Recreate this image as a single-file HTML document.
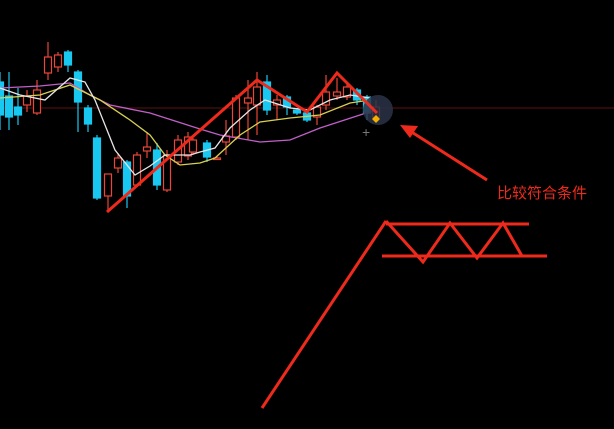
<!DOCTYPE html>
<html><head><meta charset="utf-8"><style>
html,body{margin:0;padding:0;background:#000;width:614px;height:429px;overflow:hidden}
svg{display:block}
text{font-family:"Liberation Sans","Noto Sans CJK SC",sans-serif}
</style></head><body>
<svg id="c" width="614" height="429">
<rect width="614" height="429" fill="#000"/>
<line x1="0" y1="108" x2="614" y2="108" stroke="#3c0c0c" stroke-width="1.5"/>
<g id="candles"></g>
<g id="mas"></g>
<circle cx="378" cy="110" r="15" fill="#2a3347" opacity="0.85"/>
<polyline id="zig" fill="none" stroke="#ee2a1c" stroke-width="3"/>
<path d="M376 115 l4 4 l-4 4 l-4 -4z" fill="#f5b000"/>
<text x="362" y="137" fill="#777" font-size="14">+</text>
<line x1="487" y1="180" x2="410" y2="131" stroke="#ee2a1c" stroke-width="3"/>
<polygon points="400,125 418,126 410,138" fill="#ee2a1c"/>
<text x="497" y="198" fill="#ee2a1c" font-size="15">比较符合条件</text>
<g stroke="#ee2a1c" stroke-width="3" fill="none">
<line x1="262" y1="408" x2="386" y2="221"/>
<line x1="386" y1="224" x2="529" y2="224"/>
<line x1="382" y1="256" x2="547" y2="256"/>
<polyline points="386,221 423,262 450,223 477,258 503,223 522,256"/>
</g>
</svg>
<script>
// candle data: price = 220 - y
const xs=[0,9,18,27,37,48,58,68,78,88,97,108,118,127,137,147,157,167,178,188,193,207,217,226,236,248,257,267,277,287,297,307,317,326,337,347,357,367,376];
const opens=[138,124,113,115,107,147,153,168,148,112,82,24,52,58,35,69,70,30,58,64,68,77,62,78,83,117,115,138,115,123,110,107,103,115,124,123,130,123,103];
const closes=[105,103,105,124,130,163,165,155,118,96,22,46,62,24,65,73,35,65,80,83,80,63,62,84,122,122,133,110,120,113,107,100,113,128,128,133,120,107,113];
const highs=[148,148,132,130,140,178,168,170,150,115,85,46,67,60,68,88,77,70,85,88,82,80,64,100,125,140,148,145,125,125,112,108,115,145,142,138,132,125,120];
const lows=[90,90,95,108,105,140,148,148,88,88,20,8,47,12,33,62,30,28,55,60,65,58,60,65,80,80,85,105,100,105,105,98,95,110,120,120,115,100,100];
const mAwhite=[132,125,120,142,138,120,70,45,54,65,65,68,72,92,110,120,112,110,120,125,122];
const mAyellow=[122,125,135,120,100,85,65,55,57,62,85,98,102,105,117,120];
const mAmagenta=[132,134,137,125,115,107,91,85,78,80,92,105,110];
const xw=[0,20,45,70,85,95,115,135,150,165,190,200,215,230,250,265,290,310,330,350,370];
const xy=[0,40,70,100,130,150,165,180,200,215,240,260,290,320,350,370];
const xm=[0,40,70,90,110,150,200,220,260,290,320,360,375];
const zigP=[8,140,108,147,107];
const zigX=[107,257,307,337,377];
const Y=p=>220-p;
const ns='http://www.w3.org/2000/svg';
const cg=document.getElementById('candles');
for(let i=0;i<xs.length;i++){
  const up=closes[i]>=opens[i];
  const col=up?'#e8473a':'#19c8f0';
  const w=document.createElementNS(ns,'line');
  
  
  w.setAttribute('x1',xs[i]);w.setAttribute('x2',xs[i]);
  w.setAttribute('y1',Y(highs[i]));w.setAttribute('y2',Y(lows[i]));
  w.setAttribute('stroke',col);w.setAttribute('stroke-width','1.2');
  cg.appendChild(w);
  const r=document.createElementNS(ns,'rect');
  
  
  const t=Y(Math.max(opens[i],closes[i])),b=Y(Math.min(opens[i],closes[i]));
  r.setAttribute('x',xs[i]-3.5);r.setAttribute('width',7);
  r.setAttribute('y',t);r.setAttribute('height',Math.max(1.5,b-t));
  r.setAttribute('fill',up?'#000':col);r.setAttribute('stroke',col);r.setAttribute('stroke-width','1.2');
  cg.appendChild(r);
}
const mg=document.getElementById('mas');
function ma(xa,va,col,name){
  const p=document.createElementNS(ns,'polyline');
  
  
  p.setAttribute('points',xa.map((x,i)=>x+','+Y(va[i])).join(' '));
  p.setAttribute('fill','none');p.setAttribute('stroke',col);p.setAttribute('stroke-width','1.3');
  mg.appendChild(p);
}
ma(xm,mAmagenta,'#c060c8','ma-magenta');
ma(xy,mAyellow,'#d8d050','ma-yellow');
ma(xw,mAwhite,'#e6e6e6','ma-white');
document.getElementById('zig').setAttribute('points',zigX.map((x,i)=>x+','+Y(zigP[i])).join(' '));
</script>
</body></html>
